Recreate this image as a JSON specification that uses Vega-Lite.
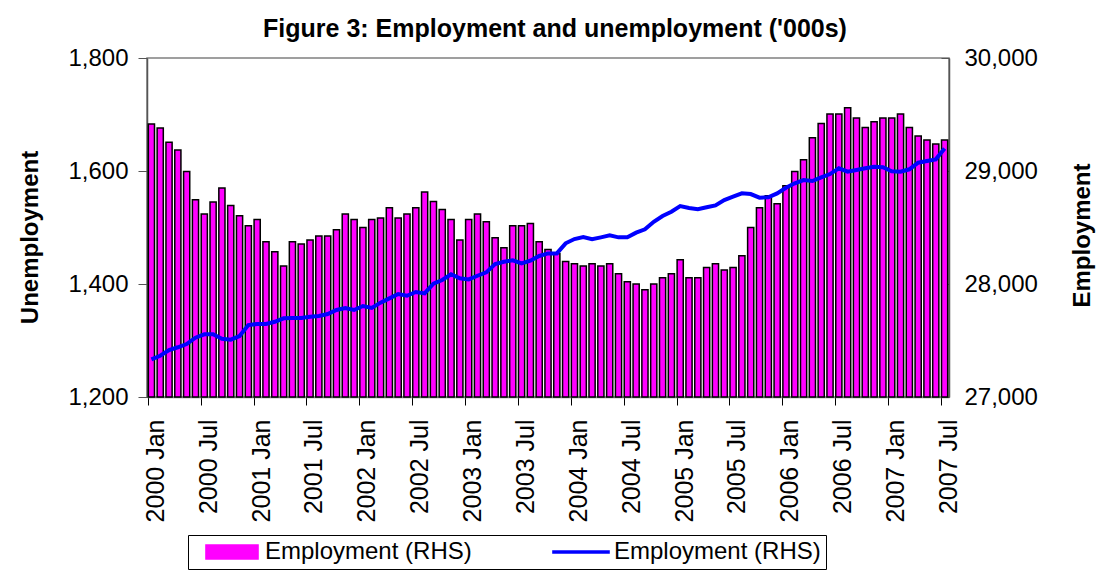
{
  "$schema": "https://vega.github.io/schema/vega-lite/v6.json",
  "width": 802,
  "height": 339,
  "autosize": {"type": "none"},
  "padding": {"left": 147, "top": 58, "right": 156, "bottom": 187},
  "background": "white",
  "title": {"text": "Figure 3: Employment and unemployment ('000s)", "font": "Liberation Sans", "fontSize": 25, "fontWeight": "bold", "color": "black", "anchor": "middle", "offset": 4, "dx": 7},
  "data": {"values": [
    {"m": "2000 Jan", "u": 1683, "e": 27333}, {"m": "2000 Feb", "u": 1676, "e": 27365}, {"m": "2000 Mar", "u": 1651, "e": 27416}, {"m": "2000 Apr", "u": 1637, "e": 27440}, {"m": "2000 May", "u": 1599, "e": 27469}, {"m": "2000 Jun", "u": 1549, "e": 27525}, {"m": "2000 Jul", "u": 1524, "e": 27555}, {"m": "2000 Aug", "u": 1545, "e": 27555}, {"m": "2000 Sep", "u": 1570, "e": 27516}, {"m": "2000 Oct", "u": 1539, "e": 27507}, {"m": "2000 Nov", "u": 1521, "e": 27540}, {"m": "2000 Dec", "u": 1503, "e": 27637},
    {"m": "2001 Jan", "u": 1514, "e": 27646}, {"m": "2001 Feb", "u": 1475, "e": 27646}, {"m": "2001 Mar", "u": 1457, "e": 27666}, {"m": "2001 Apr", "u": 1432, "e": 27696}, {"m": "2001 May", "u": 1475, "e": 27699}, {"m": "2001 Jun", "u": 1471, "e": 27699}, {"m": "2001 Jul", "u": 1478, "e": 27711}, {"m": "2001 Aug", "u": 1485, "e": 27717}, {"m": "2001 Sep", "u": 1485, "e": 27734}, {"m": "2001 Oct", "u": 1496, "e": 27770}, {"m": "2001 Nov", "u": 1524, "e": 27788}, {"m": "2001 Dec", "u": 1514, "e": 27770},
    {"m": "2002 Jan", "u": 1500, "e": 27805}, {"m": "2002 Feb", "u": 1514, "e": 27788}, {"m": "2002 Mar", "u": 1517, "e": 27835}, {"m": "2002 Apr", "u": 1535, "e": 27873}, {"m": "2002 May", "u": 1517, "e": 27911}, {"m": "2002 Jun", "u": 1524, "e": 27896}, {"m": "2002 Jul", "u": 1535, "e": 27929}, {"m": "2002 Aug", "u": 1563, "e": 27917}, {"m": "2002 Sep", "u": 1546, "e": 28003}, {"m": "2002 Oct", "u": 1532, "e": 28035}, {"m": "2002 Nov", "u": 1514, "e": 28086}, {"m": "2002 Dec", "u": 1478, "e": 28050},
    {"m": "2003 Jan", "u": 1514, "e": 28041}, {"m": "2003 Feb", "u": 1524, "e": 28073}, {"m": "2003 Mar", "u": 1510, "e": 28103}, {"m": "2003 Apr", "u": 1482, "e": 28177}, {"m": "2003 May", "u": 1464, "e": 28197}, {"m": "2003 Jun", "u": 1503, "e": 28210}, {"m": "2003 Jul", "u": 1503, "e": 28183}, {"m": "2003 Aug", "u": 1507, "e": 28206}, {"m": "2003 Sep", "u": 1475, "e": 28248}, {"m": "2003 Oct", "u": 1461, "e": 28271}, {"m": "2003 Nov", "u": 1454, "e": 28271}, {"m": "2003 Dec", "u": 1440, "e": 28360},
    {"m": "2004 Jan", "u": 1436, "e": 28398}, {"m": "2004 Feb", "u": 1432, "e": 28416}, {"m": "2004 Mar", "u": 1436, "e": 28396}, {"m": "2004 Apr", "u": 1432, "e": 28413}, {"m": "2004 May", "u": 1436, "e": 28431}, {"m": "2004 Jun", "u": 1418, "e": 28413}, {"m": "2004 Jul", "u": 1404, "e": 28413}, {"m": "2004 Aug", "u": 1400, "e": 28454}, {"m": "2004 Sep", "u": 1390, "e": 28484}, {"m": "2004 Oct", "u": 1400, "e": 28551}, {"m": "2004 Nov", "u": 1411, "e": 28602}, {"m": "2004 Dec", "u": 1418, "e": 28640},
    {"m": "2005 Jan", "u": 1443, "e": 28690}, {"m": "2005 Feb", "u": 1411, "e": 28672}, {"m": "2005 Mar", "u": 1411, "e": 28661}, {"m": "2005 Apr", "u": 1429, "e": 28679}, {"m": "2005 May", "u": 1436, "e": 28696}, {"m": "2005 Jun", "u": 1425, "e": 28743}, {"m": "2005 Jul", "u": 1429, "e": 28773}, {"m": "2005 Aug", "u": 1450, "e": 28802}, {"m": "2005 Sep", "u": 1500, "e": 28796}, {"m": "2005 Oct", "u": 1535, "e": 28764}, {"m": "2005 Nov", "u": 1556, "e": 28767}, {"m": "2005 Dec", "u": 1542, "e": 28802},
    {"m": "2006 Jan", "u": 1574, "e": 28852}, {"m": "2006 Feb", "u": 1599, "e": 28891}, {"m": "2006 Mar", "u": 1620, "e": 28920}, {"m": "2006 Apr", "u": 1659, "e": 28911}, {"m": "2006 May", "u": 1684, "e": 28944}, {"m": "2006 Jun", "u": 1701, "e": 28973}, {"m": "2006 Jul", "u": 1701, "e": 29024}, {"m": "2006 Aug", "u": 1712, "e": 28994}, {"m": "2006 Sep", "u": 1694, "e": 29009}, {"m": "2006 Oct", "u": 1677, "e": 29024}, {"m": "2006 Nov", "u": 1687, "e": 29038}, {"m": "2006 Dec", "u": 1694, "e": 29033},
    {"m": "2007 Jan", "u": 1694, "e": 28997}, {"m": "2007 Feb", "u": 1701, "e": 28994}, {"m": "2007 Mar", "u": 1677, "e": 29015}, {"m": "2007 Apr", "u": 1662, "e": 29073}, {"m": "2007 May", "u": 1655, "e": 29088}, {"m": "2007 Jun", "u": 1648, "e": 29103}, {"m": "2007 Jul", "u": 1655, "e": 29200}
  ]},
  "encoding": {
    "x": {
      "field": "m", "type": "ordinal", "sort": null,
      "scale": {"paddingInner": 0.3, "paddingOuter": 0.15},
      "axis": {
        "title": null,
        "values": ["2000 Jan", "2000 Jul", "2001 Jan", "2001 Jul", "2002 Jan", "2002 Jul", "2003 Jan", "2003 Jul", "2004 Jan", "2004 Jul", "2005 Jan", "2005 Jul", "2006 Jan", "2006 Jul", "2007 Jan", "2007 Jul"],
        "labelAngle": 270, "labelAlign": "right", "labelBaseline": "middle",
        "labelFont": "Liberation Sans", "labelFontSize": 25, "labelColor": "black",
        "labelPadding": 14, "tickSize": 8, "tickColor": "black", "domainColor": "#808080", "domainWidth": 1.5,
        "bandPosition": 0, "labelOffset": 4.4
      }
    }
  },
  "layer": [
    {
      "mark": {"type": "bar", "stroke": "black", "strokeWidth": 1.5},
      "encoding": {
        "y": {"field": "u", "type": "quantitative", "scale": {"domain": [1200, 1800], "zero": false, "nice": false},
          "axis": {"orient": "left", "values": [1200, 1400, 1600, 1800], "format": ",.0f", "labelFont": "Liberation Sans", "labelFontSize": 24, "labelColor": "black", "tickSize": 9, "tickColor": "#555", "domainColor": "#555", "domainWidth": 1.5, "labelPadding": 10, "title": "Unemployment", "titleFont": "Liberation Sans", "titleFontSize": 24, "titleFontWeight": "bold", "titleColor": "black", "titlePadding": 25, "titleY": 179}},
        "y2": {"datum": 1200},
        "color": {"datum": "bar", "type": "nominal", "scale": {"domain": ["bar", "line"], "range": ["#FF00FF", "#0000FF"]},
          "legend": {
            "orient": "none", "legendX": 41, "legendY": 477, "direction": "horizontal", "title": null,
            "labelExpr": "'Employment (RHS)'", "labelFont": "Liberation Sans", "labelFontSize": 24, "labelColor": "black", "labelLimit": 400,
            "strokeColor": "black", "padding": 5, "fillColor": "white", "symbolSize": 576, "symbolOffset": 27, "labelOffset": 21, "columnPadding": 70,
            "symbolType": {"expr": "datum.value === 'bar' ? 'M-2.17,-0.58H2.17V0.58H-2.17Z' : 'M-2.4,0H2.4'"},
            "symbolFillColor": {"expr": "datum.value === 'bar' ? '#FF00FF' : 'transparent'"},
            "symbolStrokeColor": {"expr": "datum.value === 'bar' ? 'black' : '#0000FF'"},
            "symbolStrokeWidth": {"expr": "datum.value === 'bar' ? 1.5 : 3.5"},
            "symbolOpacity": 1
          }}
      }
    },
    {
      "mark": {"type": "line", "strokeWidth": 4},
      "encoding": {
        "y": {"field": "e", "type": "quantitative", "scale": {"domain": [27000, 30000], "zero": false, "nice": false},
          "axis": {"orient": "right", "values": [27000, 28000, 29000, 30000], "format": ",.0f", "labelFont": "Liberation Sans", "labelFontSize": 24, "labelColor": "black", "tickSize": -8, "tickColor": "#555", "domainColor": "#555", "domainWidth": 1.5, "labelPadding": 23, "title": "Employment", "titleFont": "Liberation Sans", "titleFontSize": 24, "titleFontWeight": "bold", "titleColor": "black", "titlePadding": 33, "titleAngle": 270, "titleBaseline": "top", "titleY": 177}},
        "color": {"datum": "line", "type": "nominal",
          "legend": {
            "orient": "none", "legendX": 41, "legendY": 477, "direction": "horizontal", "title": null,
            "labelExpr": "'Employment (RHS)'", "labelFont": "Liberation Sans", "labelFontSize": 24, "labelColor": "black", "labelLimit": 400,
            "strokeColor": "black", "padding": 5, "fillColor": "white", "symbolSize": 576, "symbolOffset": 27, "labelOffset": 21, "columnPadding": 70,
            "symbolType": {"expr": "datum.value === 'bar' ? 'M-2.17,-0.58H2.17V0.58H-2.17Z' : 'M-2.4,0H2.4'"},
            "symbolFillColor": {"expr": "datum.value === 'bar' ? '#FF00FF' : 'transparent'"},
            "symbolStrokeColor": {"expr": "datum.value === 'bar' ? 'black' : '#0000FF'"},
            "symbolStrokeWidth": {"expr": "datum.value === 'bar' ? 1.5 : 3.5"},
            "symbolOpacity": 1
          }}
      }
    }
  ],
  "resolve": {"scale": {"y": "independent"}},
  "config": {"font": "Liberation Sans", "view": {"stroke": "#808080", "strokeWidth": 1.5}, "axis": {"grid": false}}
}
